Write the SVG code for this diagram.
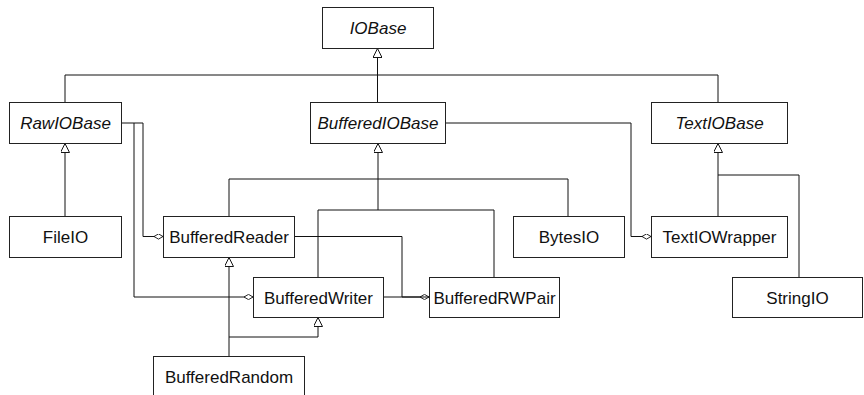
<svg xmlns="http://www.w3.org/2000/svg" width="864" height="395" viewBox="0 0 864 395">
  <style>
    .box { fill: #ffffff; stroke: #222222; stroke-width: 1; }
    .lbl { font-family: "Liberation Sans", Arial, sans-serif; font-size: 17px; fill: #111111; text-anchor: middle; }
    .abs { font-style: italic; }
    .wire { fill: none; stroke: #111111; stroke-width: 1; }
  </style>
  <defs>
    <!-- hollow triangle: generalization -->
    <marker id="gen" viewBox="0 0 10 10" refX="10" refY="5" markerWidth="9" markerHeight="9" markerUnits="userSpaceOnUse" orient="auto">
      <path d="M0,0 L10,5 L0,10 Z" fill="#ffffff" stroke="#111111" stroke-width="1.1"/>
    </marker>
    <!-- hollow diamond: aggregation -->
    <marker id="agg" viewBox="0 0 12 8" refX="12" refY="4" markerWidth="9" markerHeight="6" markerUnits="userSpaceOnUse" orient="auto">
      <path d="M0,4 L6,0.5 L12,4 L6,7.5 Z" fill="#ffffff" stroke="#111111" stroke-width="1.2"/>
    </marker>
  </defs>

  <g id="connectors">
    <!-- IOBase hierarchy -->
    <path class="wire" d="M65,102 V75 H718 V102"/>
    <path class="wire" d="M377.5,102 V48.5" marker-end="url(#gen)"/>
    <!-- RawIOBase <- FileIO -->
    <path class="wire" d="M65,216 V143.5" marker-end="url(#gen)"/>
    <!-- RawIOBase aggregated in BufferedReader / BufferedWriter -->
    <path class="wire" d="M121,123 H143 V236.5 H163" marker-end="url(#agg)"/>
    <path class="wire" d="M134,123 V297 H253" marker-end="url(#agg)"/>
    <!-- BufferedIOBase subclasses -->
    <path class="wire" d="M229,216 V179 H568 V216"/>
    <path class="wire" d="M318,277 V210 H494 V277"/>
    <path class="wire" d="M378,210 V143.5" marker-end="url(#gen)" stroke-width="1.5"/>
    <!-- BufferedReader/Writer aggregated in BufferedRWPair -->
    <path class="wire" d="M294,236.5 H402 V297 H429" marker-end="url(#agg)"/>
    <path class="wire" d="M383,297 H429"/>
    <!-- BufferedRandom -->
    <path class="wire" d="M229,356 V257.5" marker-end="url(#gen)"/>
    <path class="wire" d="M229,337 H318 V317.5" marker-end="url(#gen)"/>
    <!-- BufferedIOBase aggregated in TextIOWrapper -->
    <path class="wire" d="M445,123 H631 V236.5 H651" marker-end="url(#agg)"/>
    <!-- TextIOBase subclasses -->
    <path class="wire" d="M718,216 V143.5" marker-end="url(#gen)"/>
    <path class="wire" d="M718,175 H799 V277"/>
  </g>

  <g id="IOBase">
    <rect class="box" x="322.5" y="7.5" width="111" height="41"/>
    <text class="lbl abs" x="378" y="34">IOBase</text>
  </g>
  <g id="RawIOBase">
    <rect class="box" x="9.5" y="102.5" width="112" height="41"/>
    <text class="lbl abs" x="65.5" y="129">RawIOBase</text>
  </g>
  <g id="BufferedIOBase">
    <rect class="box" x="310.5" y="102.5" width="135" height="41"/>
    <text class="lbl abs" x="378" y="129">BufferedIOBase</text>
  </g>
  <g id="TextIOBase">
    <rect class="box" x="651.5" y="102.5" width="136" height="41"/>
    <text class="lbl abs" x="719.5" y="129">TextIOBase</text>
  </g>
  <g id="FileIO">
    <rect class="box" x="9.5" y="216.5" width="112" height="41"/>
    <text class="lbl" x="65.5" y="243">FileIO</text>
  </g>
  <g id="BufferedReader">
    <rect class="box" x="163.5" y="216.5" width="131" height="41"/>
    <text class="lbl" x="229" y="243">BufferedReader</text>
  </g>
  <g id="BytesIO">
    <rect class="box" x="513.5" y="216.5" width="111" height="41"/>
    <text class="lbl" x="569" y="243">BytesIO</text>
  </g>
  <g id="TextIOWrapper">
    <rect class="box" x="651.5" y="216.5" width="136" height="41"/>
    <text class="lbl" x="719.5" y="243">TextIOWrapper</text>
  </g>
  <g id="BufferedWriter">
    <rect class="box" x="253.5" y="277.5" width="130" height="40"/>
    <text class="lbl" x="318.5" y="303.5">BufferedWriter</text>
  </g>
  <g id="BufferedRWPair">
    <rect class="box" x="429.5" y="277.5" width="130" height="40"/>
    <text class="lbl" x="494.5" y="303.5">BufferedRWPair</text>
  </g>
  <g id="StringIO">
    <rect class="box" x="732.5" y="277.5" width="130" height="40"/>
    <text class="lbl" x="797.5" y="303.5">StringIO</text>
  </g>
  <g id="BufferedRandom">
    <rect class="box" x="153.5" y="356.5" width="151" height="41"/>
    <text class="lbl" x="229" y="383">BufferedRandom</text>
  </g>
</svg>
